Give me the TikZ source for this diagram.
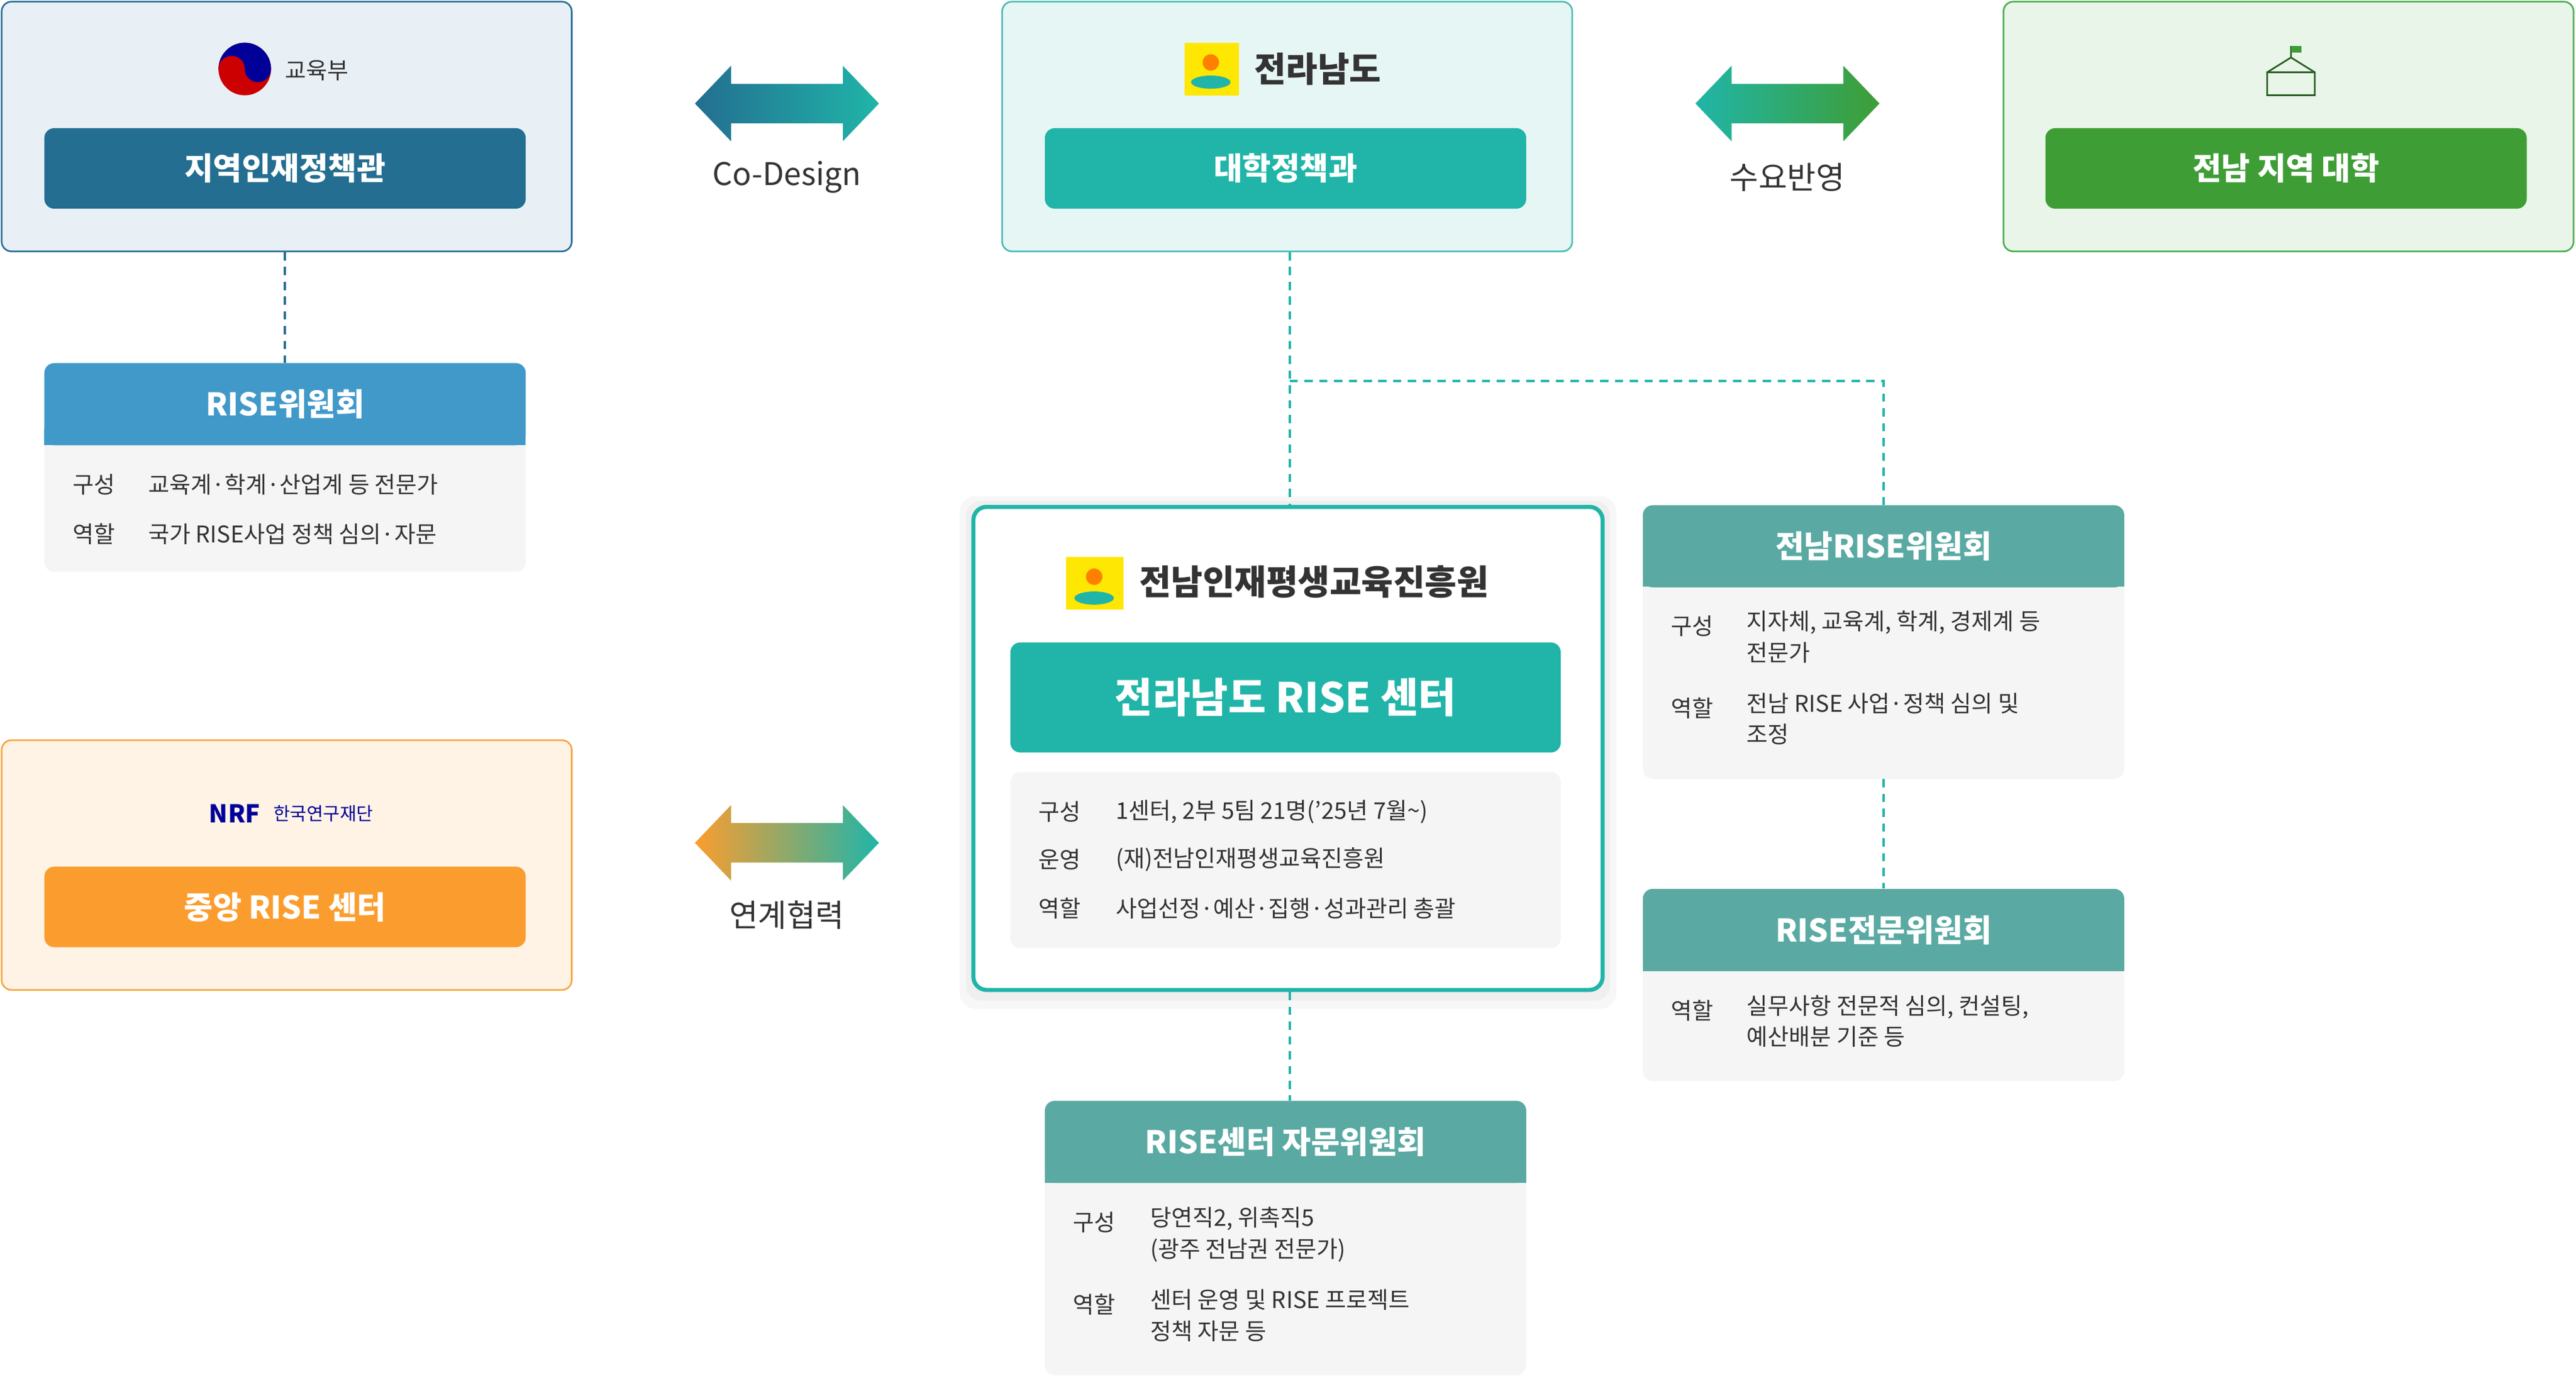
\documentclass[tikz,border=0pt]{standalone}
\usepackage{fontspec}
\setmainfont{Noto Sans CJK KR}
\usetikzlibrary{positioning}
\definecolor{moeline}{HTML}{2A6F97}
\definecolor{moefill}{HTML}{E9F0F5}
\definecolor{moebtn}{HTML}{236E91}
\definecolor{jnline}{HTML}{4CBDB5}
\definecolor{jnfill}{HTML}{E6F6F5}
\definecolor{jnbtn}{HTML}{20B5A8}
\definecolor{univline}{HTML}{4CAF50}
\definecolor{univfill}{HTML}{EAF5E9}
\definecolor{univbtn}{HTML}{3E9E35}
\definecolor{nrfline}{HTML}{F7A540}
\definecolor{nrffill}{HTML}{FFF3E6}
\definecolor{nrfbtn}{HTML}{FB9D2E}
\definecolor{riseblue}{HTML}{4199C9}
\definecolor{cardhead}{HTML}{5AA9A3}
\definecolor{cardbody}{HTML}{F5F5F5}
\definecolor{textdark}{HTML}{333333}
\tikzset{
  orgbox/.style={draw, line width=1pt, rounded corners=6pt, minimum width=347pt, minimum height=152pt},
  btn/.style={rounded corners=6pt, text=white, minimum width=293pt, minimum height=49pt, font=\bfseries\fontsize{19}{19}\selectfont},
  head/.style={fill=cardhead, text=white, minimum width=293pt, minimum height=50pt, font=\bfseries\fontsize{19}{19}\selectfont},
  rowkey/.style={anchor=west, text=textdark, font=\fontsize{14}{19}\selectfont, inner sep=0pt},
  rowval/.style={anchor=north west, align=left, text=textdark, font=\fontsize{14}{19}\selectfont, inner sep=0pt},
  link/.style={dashed, line width=1.5pt, dash pattern=on 5pt off 4pt},
  arrlabel/.style={font=\fontsize{19}{19}\selectfont, text=textdark}
}
\newcommand{\fatarrow}[4]{% x, y, left color, right color
  \shade[left color=#3, right color=#4] (#1,#2) -- ++(22,-23) -- ++(0,11) -- ++(68,0) -- ++(0,-11)
    -- ++(22,23) -- ++(-22,23) -- ++(0,-11) -- ++(-68,0) -- ++(0,11) -- cycle;}
\begin{document}
\begin{tikzpicture}[x=1pt,y=-1pt]
\useasboundingbox (0,0) rectangle (1568,838);
% top row
\node[orgbox, draw=moeline, fill=moefill] (moe) at (174.5,77) {};
\node[btn, fill=moebtn] (moebtn) at (173.5,102.5) {지역인재정책관};
\fill[red!80!black] (149,42) circle (16);
\fill[blue!60!black] (133,42) arc (180:360:16) -- cycle;
\fill[red!80!black] (141,42) circle (8);
\fill[blue!60!black] (157,42) circle (8);
\node[anchor=west, font=\fontsize{14}{14}\selectfont, text=textdark] at (170,43) {교육부};
\node[orgbox, draw=jnline, fill=jnfill] (jn) at (783.5,77) {};
\node[btn, fill=jnbtn] (jnbtn) at (782.5,102.5) {대학정책과};
\fill[yellow!90!orange] (721,26) rectangle (754,58);
\fill[jnbtn] (737,50) ellipse (12 and 4);
\fill[orange] (737,38) circle (5);
\node[anchor=west, font=\bfseries\fontsize{21}{21}\selectfont, text=textdark] at (760,42) {전라남도};
\node[orgbox, draw=univline, fill=univfill] (univ) at (1393,77) {};
\node[btn, fill=univbtn] (univbtn) at (1391.5,102.5) {전남 지역 대학};
\draw[univbtn!60!black, line width=1pt] (1380,58) rectangle (1409,44) (1380,44) -- (1394.5,35) -- (1409,44) (1394.5,35) -- (1394.5,28);
\fill[univbtn] (1394.5,28) rectangle (1401,32);
\fatarrow{423}{63}{moebtn}{jnbtn}
\node[arrlabel] (codesign) at (479,108) {Co-Design};
\fatarrow{1032}{63}{jnbtn}{univbtn}
\node[arrlabel] (demand) at (1088,108) {수요반영};
% RISE committee
\node[fill=cardbody, rounded corners=6pt, minimum width=293pt, minimum height=127pt] (risecard) at (173.5,284.5) {};
\fill[riseblue] (27,261) rectangle (320,271);
\node[head, fill=riseblue, rounded corners=6pt] (risehead) at (173.5,246) {RISE위원회};
\node[rowkey] at (44,295) {구성};
\node[rowkey] at (90,295) {교육계·학계·산업계 등 전문가};
\node[rowkey] at (44,325) {역할};
\node[rowkey] at (90,325) {국가 RISE사업 정책 심의·자문};
\draw[link, moeline] (moe.south -| risehead) -- (risehead.north);
% NRF
\node[orgbox, draw=nrfline, fill=nrffill] (nrf) at (174.5,526.5) {};
\node[btn, fill=nrfbtn] (nrfbtn) at (173.5,552) {중앙 RISE 센터};
\node[anchor=east, font=\bfseries\itshape\fontsize{15}{15}\selectfont, text=blue!60!black] at (162,495) {NRF};
\node[anchor=west, font=\fontsize{11}{11}\selectfont, text=blue!60!black] at (163,495) {한국연구재단};
\fatarrow{423}{513}{nrfbtn}{jnbtn}
\node[arrlabel] (coop) at (479,557) {연계협력};
% centre
\fill[black, opacity=0.03, rounded corners=10pt] (584,302) rectangle (984,614);
\fill[black, opacity=0.03, rounded corners=9pt] (588,305) rectangle (980,609);
\node[draw=jnbtn, line width=2.5pt, fill=white, rounded corners=8pt, minimum width=383pt, minimum height=294pt] (center) at (784,455.5) {};
\fill[yellow!90!orange] (649,339) rectangle (684,371);
\fill[jnbtn] (666,364) ellipse (12 and 4);
\fill[orange] (666,351) circle (5);
\node[anchor=west, font=\bfseries\fontsize{21}{21}\selectfont, text=textdark] at (690,354) {전남인재평생교육진흥원};
\node[btn, fill=jnbtn, minimum width=335pt, minimum height=67pt, font=\bfseries\fontsize{25}{25}\selectfont] (risecenter) at (782.5,424.5) {전라남도 RISE 센터};
\node[fill=cardbody, rounded corners=6pt, minimum width=335pt, minimum height=107pt] (centerinfo) at (782.5,523.5) {};
\node[rowkey] at (632,494) {구성};
\node[rowkey] at (679,494) {1센터, 2부 5팀 21명(’25년 7월\textasciitilde)};
\node[rowkey] at (632,523) {운영};
\node[rowkey] at (679,523) {(재)전남인재평생교육진흥원};
\node[rowkey] at (632,553) {역할};
\node[rowkey] at (679,553) {사업선정·예산·집행·성과관리 총괄};
% Jeonnam RISE committee
\node[fill=cardbody, rounded corners=6pt, minimum width=293pt, minimum height=166pt] (jncard) at (1146.5,391) {};
\fill[cardhead] (1000,347) rectangle (1293,357);
\node[head, rounded corners=6pt] (jnhead) at (1146.5,332.5) {전남RISE위원회};
\node[rowkey] at (1017,381) {구성};
\node[rowval] at (1063,371.5) {지자체, 교육계, 학계, 경제계 등\\전문가};
\node[rowkey] at (1017,431) {역할};
\node[rowval] at (1063,421.5) {전남 RISE 사업·정책 심의 및\\조정};
% expert committee
\node[fill=cardbody, rounded corners=6pt, minimum width=293pt, minimum height=117pt] (excard) at (1146.5,599.5) {};
\fill[cardhead] (1000,581) rectangle (1293,591);
\node[head, rounded corners=6pt] (exhead) at (1146.5,566) {RISE전문위원회};
\node[rowkey] at (1017,615) {역할};
\node[rowval] at (1063,605.5) {실무사항 전문적 심의, 컨설팅,\\예산배분 기준 등};
% advisory committee
\node[fill=cardbody, rounded corners=6pt, minimum width=293pt, minimum height=167pt] (advcard) at (782.5,753.5) {};
\fill[cardhead] (636,710) rectangle (929,720);
\node[head, rounded corners=6pt] (advhead) at (782.5,695) {RISE센터 자문위원회};
\node[rowkey] at (653,744) {구성};
\node[rowval] at (700,734.5) {당연직2, 위촉직5\\(광주 전남권 전문가)};
\node[rowkey] at (653,794) {역할};
\node[rowval] at (700,784.5) {센터 운영 및 RISE 프로젝트\\정책 자문 등};
% dashed links
\coordinate (branch) at (785,232);
\draw[link, jnbtn] (jn.south -| branch) -- (center.north -| branch);
\draw[link, jnbtn] (branch) -| (jnhead.north);
\draw[link, jnbtn] (jncard.south) -- (exhead.north);
\draw[link, jnbtn] (center.south -| branch) -- (advhead.north -| branch);
\end{tikzpicture}
\end{document}
